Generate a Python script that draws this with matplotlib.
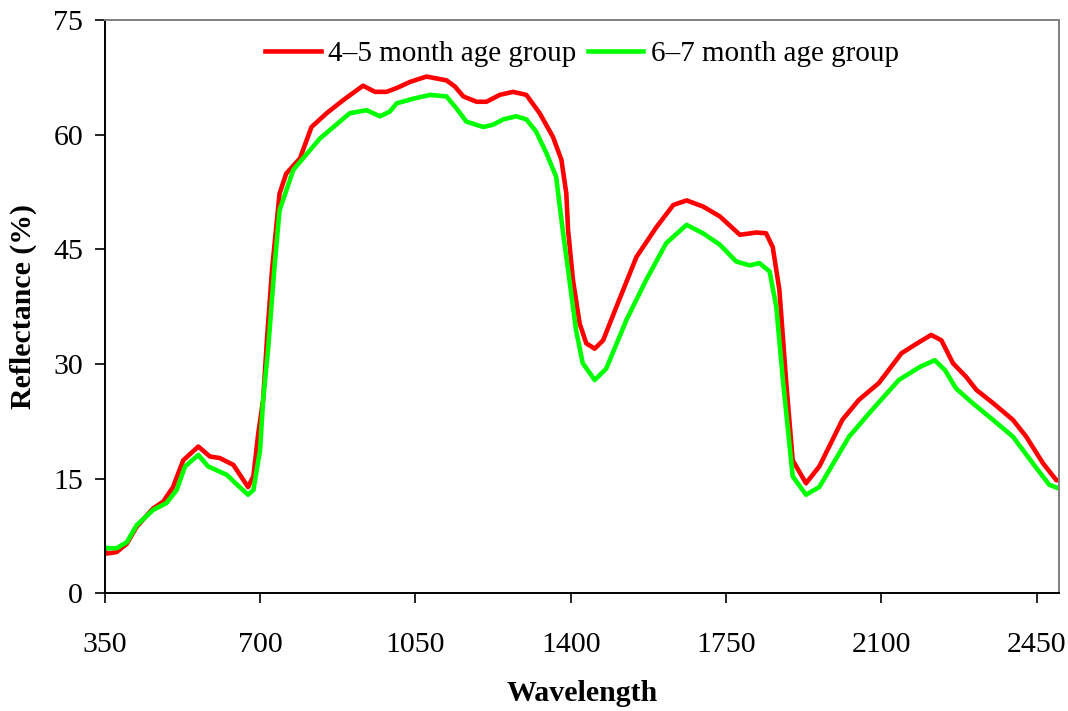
import matplotlib.pyplot as plt

plt.rcParams['font.family'] = ['Liberation Serif', 'DejaVu Serif']

# spectral reflectance of the two age groups (wavelength in nm, reflectance in %)
wl_45 = [350, 354, 377, 400, 422, 459, 482, 504, 527, 561, 587, 609, 640, 673, 685,
         696, 707, 716, 727, 744, 759, 790, 816, 850, 887, 932, 959, 985, 1008, 1038,
         1075, 1120, 1139, 1158, 1188, 1210, 1240, 1270, 1300, 1330, 1360, 1379, 1390,
         1394, 1405, 1420, 1435, 1454, 1473, 1503, 1548, 1593, 1631, 1661, 1698, 1736,
         1781, 1818, 1840, 1855, 1870, 1885, 1900, 1930, 1960, 2012, 2049, 2094, 2145,
         2186, 2212, 2235, 2261, 2291, 2314, 2351, 2396, 2426, 2464, 2494, 2500]
refl_45 = [5.7, 5.2, 5.4, 6.5, 8.7, 11.1, 12.0, 13.9, 17.4, 19.2, 17.9, 17.7, 16.8, 13.9, 15.3,
           20.9, 25.3, 33.5, 42.3, 52.3, 54.9, 56.9, 61.0, 62.8, 64.5, 66.4, 65.6, 65.6, 66.1, 66.9,
           67.6, 67.1, 66.3, 65.0, 64.3, 64.3, 65.2, 65.6, 65.2, 62.8, 59.7, 56.7, 52.3,
           47.5, 41.0, 35.3, 32.7, 32.0, 33.1, 37.5, 44.0, 47.9, 50.8, 51.4, 50.6, 49.3,
           46.9, 47.2, 47.1, 45.3, 39.7, 27.9, 17.4, 14.4, 16.6, 22.7, 25.3, 27.5, 31.4,
           32.9, 33.8, 33.1, 30.1, 28.3, 26.6, 24.9, 22.7, 20.5, 17.0, 14.8, 14.8]

wl_67 = [350, 354, 377, 400, 422, 459, 489, 512, 531, 561, 583, 625, 654, 673, 685,
         700, 707, 718, 733, 744, 775, 835, 902, 940, 970, 992, 1008, 1045, 1083, 1120,
         1143, 1165, 1203, 1225, 1248, 1277, 1300, 1322, 1345, 1367, 1382, 1397, 1412,
         1427, 1454, 1480, 1525, 1570, 1615, 1661, 1698, 1736, 1773, 1803, 1825, 1848,
         1863, 1878, 1900, 1930, 1960, 2027, 2079, 2139, 2186, 2220, 2243, 2268, 2305,
         2351, 2396, 2441, 2478, 2500]
refl_67 = [6.1, 5.9, 5.9, 6.7, 8.9, 10.9, 11.8, 13.5, 16.6, 18.1, 16.6, 15.5, 13.9, 12.9, 13.5,
           18.7, 25.3, 31.8, 43.0, 50.1, 55.4, 59.5, 62.8, 63.2, 62.4, 63.0, 64.1, 64.7, 65.2, 65.0,
           63.4, 61.7, 61.0, 61.3, 62.0, 62.4, 62.0, 60.4, 57.6, 54.5, 47.5, 41.0, 34.4,
           30.1, 27.9, 29.4, 35.7, 41.0, 45.8, 48.2, 47.1, 45.6, 43.4, 42.9, 43.2, 42.1,
           37.5, 27.9, 15.3, 12.9, 13.9, 20.5, 24.0, 27.9, 29.6, 30.5, 29.2, 26.8, 24.9,
           22.7, 20.5, 17.0, 14.2, 13.7]

x_ticks = [350, 700, 1050, 1400, 1750, 2100, 2450]
y_ticks = [0, 15, 30, 45, 60, 75]

fig = plt.figure(figsize=(10.68, 7.11), dpi=100)
ax = fig.add_axes([0.098, 0.1655, 0.8936, 0.8064])

ax.plot(wl_45, refl_45, color='#ff0000', lw=3.3, label='4\u20135 month age group',
        solid_joinstyle='round')
ax.plot(wl_67, refl_67, color='#00ff00', lw=3.3, label='6\u20137 month age group',
        solid_joinstyle='round')

ax.set_xlim(350, 2500)
ax.set_ylim(0, 75)
ax.set_xticks(x_ticks)
ax.set_yticks(y_ticks)
ax.tick_params(axis='both', direction='out', length=7.5, width=1.2, labelsize=21.5,
               color='black')
ax.tick_params(axis='x', pad=20)
ax.tick_params(axis='y', pad=8)

for side in ['left', 'bottom']:
    ax.spines[side].set_color('black')
    ax.spines[side].set_linewidth(1.4)
for side in ['top', 'right']:
    ax.spines[side].set_color('#808080')
    ax.spines[side].set_linewidth(1.4)

ax.set_ylabel('Reflectance (%)', fontsize=21.5, fontweight='bold', labelpad=12)
ax.set_xlabel('Wavelength', fontsize=21.5, fontweight='bold', labelpad=16)

ax.legend(loc='upper center', ncol=2, frameon=False, fontsize=21,
          handlelength=1.9, handletextpad=0.25, columnspacing=0.4,
          bbox_to_anchor=(0.5, 1.0), borderaxespad=0.3)

fig.savefig('out.png', dpi=100)
